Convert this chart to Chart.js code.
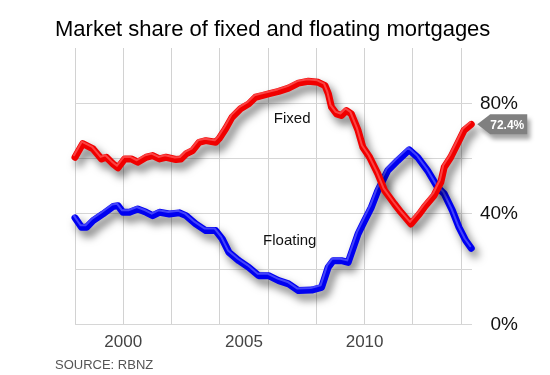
<!DOCTYPE html>
<html>
<head>
<meta charset="utf-8">
<script src="https://cdn.jsdelivr.net/npm/chart.js@4/dist/chart.umd.min.js"></script>
<style>
html, body { margin: 0; padding: 0; background: #fff; }
</style>
</head>
<body>
<canvas id="myChart" width="550" height="375"></canvas>
<script>
const fixedYears = [1998.0, 1998.32, 1998.75, 1999.1, 1999.3, 1999.58, 1999.78, 2000.06, 2000.33, 2000.6, 2000.95, 2001.22, 2001.5, 2001.77, 2002.18, 2002.39, 2002.6, 2002.87, 2003.14, 2003.42, 2003.83, 2003.97, 2004.24, 2004.51, 2004.86, 2005.2, 2005.48, 2005.75, 2006.02, 2006.44, 2006.85, 2007.26, 2007.67, 2008.08, 2008.36, 2008.5, 2008.63, 2008.84, 2009.04, 2009.25, 2009.45, 2009.73, 2009.93, 2010.21, 2010.55, 2010.83, 2011.24, 2011.51, 2011.92, 2012.27, 2012.47, 2012.88, 2013.16, 2013.3, 2013.57, 2013.85, 2014.12, 2014.42];
const fixedValues = [60.5, 65.4, 63.5, 59.9, 60.5, 58.1, 56.7, 59.9, 59.9, 58.7, 60.5, 61.1, 59.9, 60.5, 59.7, 59.9, 61.7, 62.9, 65.9, 66.5, 65.9, 67.2, 70.8, 75, 78, 79.8, 82.2, 82.8, 83.4, 84.3, 85.5, 87.3, 88, 87.6, 86.4, 83.4, 78.6, 76.2, 75.6, 77.4, 76.2, 70.2, 64.1, 60.5, 54.5, 48.5, 43.6, 40.6, 36.4, 40, 42.4, 46.7, 51.5, 56.9, 60.5, 65.4, 70.2, 72.4];

const floatingYears = [1998.0, 1998.27, 1998.48, 1998.75, 1999.16, 1999.58, 1999.78, 1999.99, 2000.26, 2000.6, 2000.95, 2001.22, 2001.5, 2001.91, 2002.32, 2002.6, 2003.0, 2003.42, 2003.83, 2004.1, 2004.38, 2004.79, 2005.2, 2005.61, 2006.02, 2006.44, 2006.85, 2007.26, 2007.81, 2008.22, 2008.49, 2008.7, 2009.04, 2009.32, 2009.73, 2010.0, 2010.28, 2010.55, 2010.96, 2011.37, 2011.85, 2012.2, 2012.61, 2013.02, 2013.3, 2013.64, 2013.91, 2014.19, 2014.42];
const floatingValues = [38.6, 35.2, 35.2, 37.6, 40, 42.7, 43, 40.6, 40.6, 41.8, 40.6, 39.4, 40.6, 40, 40.4, 39.4, 36.4, 34, 34, 31, 26.1, 23.1, 20.7, 17.7, 17.7, 15.9, 14.7, 12.3, 12.5, 13.5, 20.7, 23.1, 23.1, 22.5, 32.8, 37.6, 42.4, 48.5, 55.7, 59.3, 63.2, 60.5, 55.7, 49.7, 47.3, 41.2, 35.2, 30.4, 27.6];

const yearLabels = [2000, 2005, 2010];
const percentLabels = [0, 40, 80];

const titleText = 'Market share of fixed and floating mortgages';
const sourceText = 'SOURCE: RBNZ';
const FONT = "'Liberation Sans', Arial, sans-serif";

const toPoints = (xs, ys) => xs.map((x, i) => ({ x: x, y: ys[i] }));
const fixedPts = toPoints(fixedYears, fixedValues);
const floatingPts = toPoints(floatingYears, floatingValues);

// line look: drop shadow on the main strokes, a thin lighter stroke nudged up-left on top
const bevel = {
    id: 'bevel',
    beforeDatasetDraw(chart, args) {
        const ds = chart.data.datasets[args.index];
        const ctx = chart.ctx;
        ctx.save();
        if (ds.highlight) {
            ctx.translate(-1, -2);
        } else {
            ctx.shadowColor = 'rgba(0,0,0,0.55)';
            ctx.shadowBlur = 8;
            ctx.shadowOffsetX = 4;
            ctx.shadowOffsetY = 6;
        }
    },
    afterDatasetDraw(chart) {
        chart.ctx.restore();
    }
};

const extras = {
    id: 'extras',
    afterDraw(chart) {
        const ctx = chart.ctx;
        const x = chart.scales.x, y = chart.scales.y;
        ctx.save();
        ctx.fillStyle = '#000';
        ctx.font = '22px ' + FONT;
        ctx.textAlign = 'left';
        ctx.textBaseline = 'middle';
        ctx.fillText(titleText, 55, 30);

        ctx.fillStyle = '#555';
        ctx.font = '13px ' + FONT;
        ctx.fillText(sourceText, 55, 365);

        ctx.fillStyle = '#111';
        ctx.font = '15px ' + FONT;
        ctx.textAlign = 'center';
        ctx.fillText('Fixed', x.getPixelForValue(2007.0), y.getPixelForValue(74.5));
        ctx.fillText('Floating', x.getPixelForValue(2006.9), y.getPixelForValue(30.4));

        // callout on the last fixed value
        const meta = chart.getDatasetMeta(1);
        const last = meta.data[meta.data.length - 1];
        const tx = last.x + 6, ty = last.y;
        ctx.shadowColor = 'rgba(0,0,0,0.35)';
        ctx.shadowBlur = 4;
        ctx.shadowOffsetX = 3;
        ctx.shadowOffsetY = 5;
        ctx.fillStyle = '#808080';
        ctx.beginPath();
        ctx.moveTo(tx, ty);
        ctx.lineTo(tx + 13, ty - 10);
        ctx.lineTo(tx + 50, ty - 10);
        ctx.lineTo(tx + 50, ty + 10);
        ctx.lineTo(tx + 13, ty + 10);
        ctx.closePath();
        ctx.fill();
        ctx.shadowColor = 'transparent';
        ctx.fillStyle = '#fff';
        ctx.font = 'bold 12px ' + FONT;
        ctx.fillText(fixedValues[fixedValues.length - 1].toFixed(1) + '%', tx + 30, ty + 1);
        ctx.restore();
    }
};

new Chart(document.getElementById('myChart'), {
    type: 'line',
    data: {
        datasets: [
            { data: fixedPts, highlight: true, borderColor: 'rgba(255,95,95,0.7)', borderWidth: 2, order: 0 },
            { data: fixedPts, borderColor: '#f00000', borderWidth: 7, order: 1 },
            { data: floatingPts, highlight: true, borderColor: 'rgba(95,95,255,0.7)', borderWidth: 2, order: 2 },
            { data: floatingPts, borderColor: '#0000f0', borderWidth: 7, order: 3 }
        ]
    },
    options: {
        responsive: false,
        animation: false,
        layout: { padding: { left: 75, right: 32, top: 48, bottom: 14 } },
        datasets: {
            line: {
                pointRadius: 0,
                tension: 0,
                fill: false,
                clip: false,
                borderCapStyle: 'round',
                borderJoinStyle: 'round'
            }
        },
        plugins: {
            legend: { display: false },
            tooltip: { enabled: false },
            title: { display: false }
        },
        scales: {
            x: {
                type: 'linear',
                min: 1998,
                max: 2014.45,
                border: { display: false },
                grid: {
                    drawTicks: false,
                    color: c => (c.tick && Number.isInteger(c.tick.value) && c.tick.value % 2 === 0) ? '#d2d2d2' : 'transparent'
                },
                ticks: {
                    stepSize: 1,
                    includeBounds: false,
                    autoSkip: false,
                    maxRotation: 0,
                    minRotation: 0,
                    padding: 8,
                    color: '#444',
                    font: { family: FONT, size: 17 },
                    callback: v => yearLabels.includes(v) ? String(v) : ''
                }
            },
            y: {
                position: 'right',
                min: 0,
                max: 100,
                border: { display: false },
                grid: {
                    drawTicks: false,
                    color: c => (c.tick && c.tick.value < 100) ? '#d6d6d6' : 'transparent'
                },
                ticks: {
                    stepSize: 20,
                    padding: 4,
                    crossAlign: 'far',
                    color: '#111',
                    font: { family: FONT, size: 19 },
                    callback: v => percentLabels.includes(v) ? v + '%' : ''
                }
            }
        }
    },
    plugins: [bevel, extras]
});
</script>
</body>
</html>
